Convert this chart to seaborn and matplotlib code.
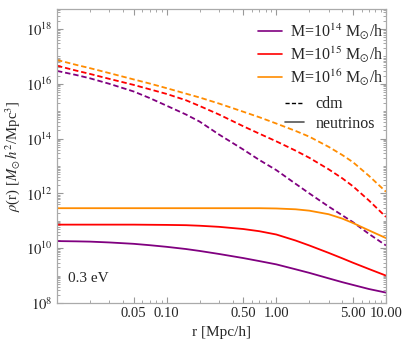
import numpy as np
import pandas as pd
import matplotlib
matplotlib.use("Agg")
import matplotlib.pyplot as plt
import matplotlib.ticker as mticker
from matplotlib.lines import Line2D
import seaborn as sns

# radii [Mpc/h]
r = [0.01, 0.015, 0.02, 0.03, 0.05, 0.07, 0.1, 0.15, 0.2, 0.3,
     0.5, 0.7, 1.0, 1.5, 2.0, 3.0, 4.0, 5.0, 7.0, 10.0]

# log10 density, cdm (dashed)
cdm_14 = [16.47, 16.32, 16.20, 16.00, 15.72, 15.48, 15.20, 14.88, 14.62, 14.15,
          13.60, 13.22, 12.85, 12.35, 12.00, 11.52, 11.20, 10.95, 10.52, 10.10]
cdm_15 = [16.66, 16.48, 16.36, 16.18, 15.96, 15.80, 15.63, 15.40, 15.19, 14.88,
          14.45, 14.18, 13.90, 13.56, 13.30, 12.88, 12.55, 12.26, 11.74, 11.14]
cdm_16 = [16.87, 16.69, 16.57, 16.39, 16.16, 16.01, 15.84, 15.64, 15.50, 15.28,
          14.98, 14.78, 14.55, 14.28, 14.07, 13.70, 13.40, 13.14, 12.64, 12.06]

# log10 density, neutrinos (solid)
nu_14 = [10.26, 10.25, 10.24, 10.21, 10.16, 10.11, 10.05, 9.97, 9.90, 9.79,
         9.64, 9.53, 9.41, 9.23, 9.10, 8.90, 8.76, 8.66, 8.51, 8.38]
nu_15 = [10.86, 10.86, 10.86, 10.86, 10.86, 10.855, 10.85, 10.84, 10.82, 10.78,
         10.70, 10.62, 10.50, 10.28, 10.10, 9.83, 9.63, 9.47, 9.24, 9.00]
nu_16 = [11.46, 11.46, 11.46, 11.46, 11.46, 11.46, 11.46, 11.46, 11.46, 11.46,
         11.46, 11.46, 11.45, 11.42, 11.37, 11.24, 11.08, 10.92, 10.65, 10.37]

masses = ["14", "15", "16"]
colors = {"14": "#800080", "15": "#FF0000", "16": "#FF8C00"}

rows = []
for m, c, n in zip(masses, [cdm_14, cdm_15, cdm_16], [nu_14, nu_15, nu_16]):
    for ri, ci, ni in zip(r, c, n):
        rows.append({"r": ri, "rho": 10 ** ci, "mass": m, "kind": "cdm"})
        rows.append({"r": ri, "rho": 10 ** ni, "mass": m, "kind": "neutrinos"})
df = pd.DataFrame(rows)

sns.set_style("ticks")
plt.rcParams["font.family"] = ["Liberation Serif", "DejaVu Serif"]
plt.rcParams["mathtext.fontset"] = "stix"
plt.rcParams["figure.facecolor"] = "white"
plt.rcParams["axes.facecolor"] = "white"

fig = plt.figure(figsize=(4.05, 3.43), dpi=100, facecolor="white")
ax = fig.add_axes([0.1407, 0.1166, 0.953 - 0.1407, 0.9738 - 0.1166])
ax.set_facecolor("white")

sns.lineplot(data=df, x="r", y="rho", hue="mass", style="kind",
             palette=colors, dashes={"cdm": (3, 1.6), "neutrinos": ""},
             hue_order=masses, style_order=["cdm", "neutrinos"],
             linewidth=1.3, legend=False, ax=ax, estimator=None, sort=True)

ax.set_xscale("log")
ax.set_yscale("log")
ax.set_xlim(0.01, 10)
ax.set_ylim(1e8, 10 ** 18.73)

# x ticks
ax.xaxis.set_major_locator(mticker.FixedLocator([0.05, 0.1, 0.5, 1, 5, 10]))
ax.xaxis.set_major_formatter(mticker.FixedFormatter(["0.05", "0.10", "0.50", "1.00", "5.00", "10.00"]))
xminor = [k * 10.0 ** e for e in (-2, -1, 0) for k in range(1, 10)]
ax.xaxis.set_minor_locator(mticker.FixedLocator(xminor))
ax.xaxis.set_minor_formatter(mticker.NullFormatter())

# y ticks
ymaj = [10.0 ** e for e in range(8, 19, 2)]
ax.yaxis.set_major_locator(mticker.FixedLocator(ymaj))
ax.yaxis.set_major_formatter(mticker.FuncFormatter(lambda v, p: r"$10^{%d}$" % round(np.log10(v))))
yminor = [10.0 ** e for e in range(9, 19, 2)]
yminor += [k * 10.0 ** e for e in range(8, 19) for k in range(2, 10)]
ax.yaxis.set_minor_locator(mticker.FixedLocator(yminor))
ax.yaxis.set_minor_formatter(mticker.NullFormatter())

ax.tick_params(which="both", direction="in", top=True, right=True,
               color="#999999", labelsize=10.5, pad=3)
ax.tick_params(which="major", length=4, width=0.8)
ax.tick_params(which="minor", length=2, width=0.6)
for s in ax.spines.values():
    s.set_color("#aaaaaa")
    s.set_linewidth(0.9)

ax.set_xlabel("r [Mpc/h]", fontsize=11, labelpad=4)
ax.set_ylabel(r"$\rho$(r) [$M_{\odot}\,h^2$/Mpc$^3$]", fontsize=10.5, labelpad=3)

ax.text(0.035, 0.07, "0.3 eV", transform=ax.transAxes, fontsize=11)

h1 = [Line2D([], [], color=colors[m], lw=1.2) for m in masses]
l1 = [r"M=10$^{%s}$ M$_{\odot}$/h" % m for m in masses]
leg1 = ax.legend(h1, l1, loc="upper right", bbox_to_anchor=(1.02, 0.99), frameon=False,
                 fontsize=11.5, handlelength=1.5, handletextpad=0.5, labelspacing=0.2,
                 borderaxespad=0.2)
ax.add_artist(leg1)
h2 = [Line2D([], [], color="black", lw=1.0, ls=(0, (3, 1.6))),
      Line2D([], [], color="#555555", lw=1.2)]
ax.legend(h2, ["cdm", "neutrinos"], loc="upper right", bbox_to_anchor=(0.995, 0.735),
          frameon=False, fontsize=11.5, handlelength=1.2, handletextpad=0.7,
          labelspacing=0.2, borderaxespad=0.2, alignment="left")

fig.savefig("out.png", dpi=100, facecolor="white")
